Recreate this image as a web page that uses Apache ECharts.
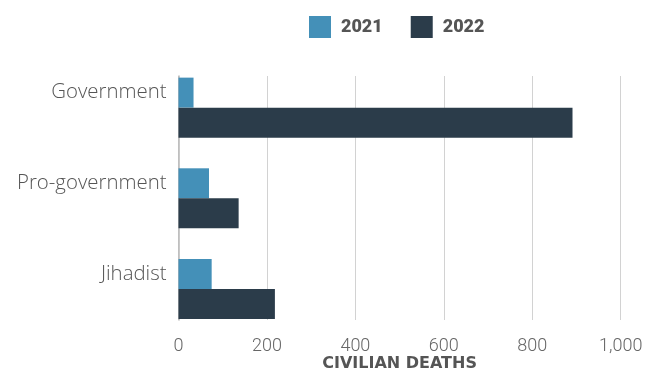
<!DOCTYPE html>
<html><head><meta charset="utf-8">
<script src="https://cdn.jsdelivr.net/npm/echarts@6/dist/echarts.min.js"></script>
<style>html,body{margin:0;padding:0;background:#fff}#c{width:648px;height:371px}</style>
</head><body><div id="c"></div>
<script>
var categories = ['Government', 'Pro-government', 'Jihadist'];
var values2021 = [34, 69, 75];
var values2022 = [891, 136, 218];
var seriesNames = ['2021', '2022'];
var xTicks = [0, 200, 400, 600, 800, 1000];

var chart = echarts.init(document.getElementById('c'));
var L = 178.5, R = 27.3;
chart.setOption({
  animation: false,
  legend: {
    data: seriesNames,
    left: 304, top: 11,
    itemWidth: 22, itemHeight: 22, itemGap: 28,
    icon: 'rect',
    textStyle: { fontFamily: 'Roboto', fontWeight: 900, fontSize: 18, color: '#555', padding: [0, 0, 0, 5] }
  },
  grid: [
    { left: L, right: R, top: 76, height: 244, outerBoundsMode: 'none', containLabel: false },
    { left: L, right: R, top: 62.3, height: 272, outerBoundsMode: 'none', containLabel: false }
  ],
  xAxis: [
    { gridIndex: 0, type: 'value', min: xTicks[0], max: xTicks[xTicks.length - 1], interval: 200,
      axisLabel: { show: false }, axisTick: { show: false }, axisLine: { show: false },
      splitLine: { show: true, lineStyle: { color: '#d2d2d2', width: 1 } } },
    { gridIndex: 1, type: 'value', min: xTicks[0], max: xTicks[xTicks.length - 1], interval: 200,
      axisTick: { show: false }, axisLine: { show: false }, splitLine: { show: false },
      axisLabel: { margin: 3, fontFamily: 'Roboto', fontWeight: 300, fontSize: 18, color: '#666',
        formatter: function (v) { return v.toLocaleString('en-US'); } },
      name: 'CIVILIAN DEATHS', nameLocation: 'middle', nameGap: 30, nameMoveOverlap: false,
      nameTextStyle: { fontFamily: 'DejaVu Sans', fontWeight: 'bold', fontSize: 16, color: '#555',
        verticalAlign: 'middle', lineHeight: 16 } }
  ],
  yAxis: [
    { gridIndex: 0, type: 'category', data: categories, inverse: true,
      axisLabel: { show: false }, axisTick: { show: false },
      axisLine: { show: true, lineStyle: { color: '#b8b8b8', width: 1.5 } } },
    { gridIndex: 1, type: 'category', data: categories, inverse: true,
      axisTick: { show: false }, axisLine: { show: false },
      axisLabel: { margin: 12, fontFamily: 'Open Sans', fontWeight: 300, fontSize: 20.4, color: '#555',
        verticalAlign: 'bottom', lineHeight: 30 } }
  ],
  series: [
    { name: '2021', type: 'bar', xAxisIndex: 1, yAxisIndex: 1, data: values2021,
      barWidth: 30, barGap: '0%', itemStyle: { color: '#4490b8' } },
    { name: '2022', type: 'bar', xAxisIndex: 1, yAxisIndex: 1, data: values2022,
      barWidth: 30, barGap: '0%', itemStyle: { color: '#2b3c4a' } }
  ]
});
</script></body></html>
